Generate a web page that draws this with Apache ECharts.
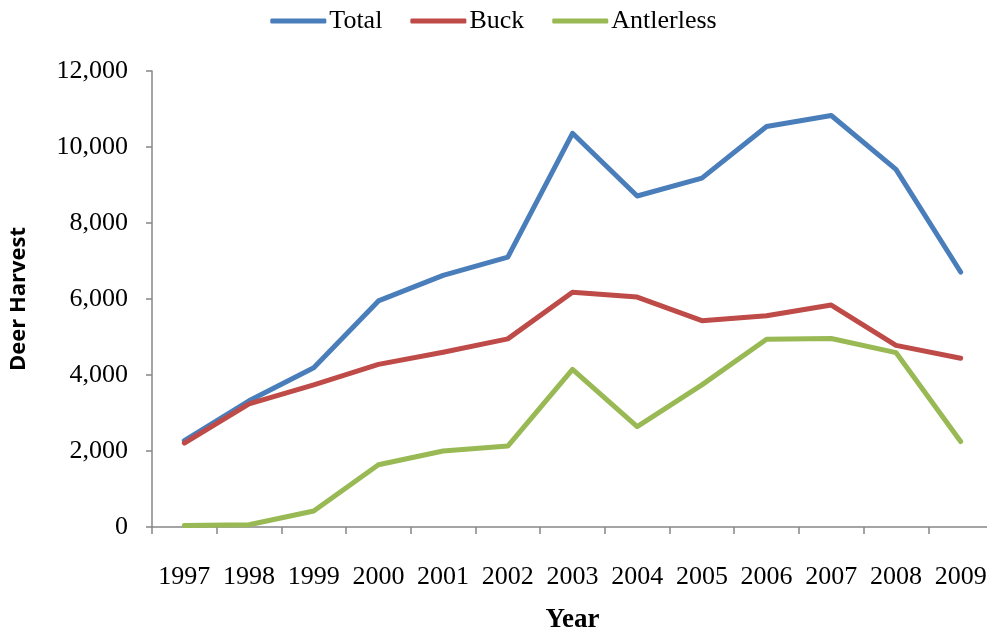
<!DOCTYPE html>
<html>
<head>
<meta charset="utf-8">
<title>Deer Harvest</title>
<script src="https://cdn.jsdelivr.net/npm/echarts@6/dist/echarts.min.js"></script>
<style>
  html, body { margin: 0; padding: 0; background: #fff; }
  #chart { width: 987px; height: 635px; }
</style>
</head>
<body>
<div id="chart"></div>
<script>
var years = ["1997", "1998", "1999", "2000", "2001", "2002", "2003", "2004", "2005", "2006", "2007", "2008", "2009"];
var total = [2270, 3320, 4190, 5950, 6620, 7100, 10360, 8710, 9180, 10540, 10830, 9410, 6710];
var buck = [2210, 3240, 3740, 4280, 4600, 4950, 6180, 6050, 5430, 5560, 5840, 4780, 4440];
var antlerless = [40, 60, 420, 1640, 2000, 2130, 4150, 2640, 3740, 4940, 4960, 4590, 2250];

(function () {
  "use strict";
  var serif = "'Liberation Serif', 'Times New Roman', serif";
  var axisColor = "#868686";
  var chart = echarts.init(document.getElementById("chart"));

  function line(name, data, color) {
    return {
      name: name, type: "line", data: data, symbol: "none",
      lineStyle: { width: 5, color: color, cap: "round", join: "round" },
      itemStyle: { color: color }
    };
  }

  chart.setOption({
    animation: false,
    textStyle: { fontFamily: serif },
    legend: {
      top: 3, left: "center", itemWidth: 56, itemHeight: 5, itemGap: 28,
      icon: "roundRect",
      textStyle: { fontFamily: serif, fontSize: 26, color: "#000", padding: [0, 0, 0, -2] },
      data: ["Total", "Buck", "Antlerless"]
    },
    grid: { left: 152, right: -6, top: 71, bottom: 108, containLabel: false, outerBoundsMode: "none" },
    xAxis: {
      type: "category", data: years, boundaryGap: true,
      name: "Year", nameLocation: "middle", nameGap: 80,
      nameTextStyle: { fontFamily: serif, fontSize: 27, fontWeight: "bold", color: "#000" },
      axisLine: { lineStyle: { color: axisColor, width: 1.5 } },
      axisTick: { show: true, length: 7, lineStyle: { color: axisColor, width: 1.5 } },
      axisLabel: { color: "#000", fontSize: 26, fontFamily: serif, margin: 37, interval: 0 },
      splitLine: { show: false }
    },
    yAxis: {
      type: "value", min: 0, max: 12000, interval: 2000,
      name: "Deer Harvest", nameLocation: "middle", nameGap: 122,
      nameTextStyle: { fontFamily: "'Open Sans', 'Liberation Sans', sans-serif", fontSize: 22, fontWeight: "bold", color: "#000" },
      axisLine: { show: true, lineStyle: { color: axisColor, width: 1.5 } },
      axisTick: { show: true, inside: false, length: 6, lineStyle: { color: axisColor, width: 1.5 } },
      axisLabel: {
        color: "#000", fontSize: 26, fontFamily: serif, margin: 24,
        formatter: function (v) { return v.toLocaleString("en-US"); }
      },
      splitLine: { show: false }
    },
    series: [
      line("Total", total, "#4a7ebb"),
      line("Buck", buck, "#be4b48"),
      line("Antlerless", antlerless, "#98b954")
    ]
  });
  window.addEventListener("resize", function () { chart.resize(); });
})();
</script>
</body>
</html>
